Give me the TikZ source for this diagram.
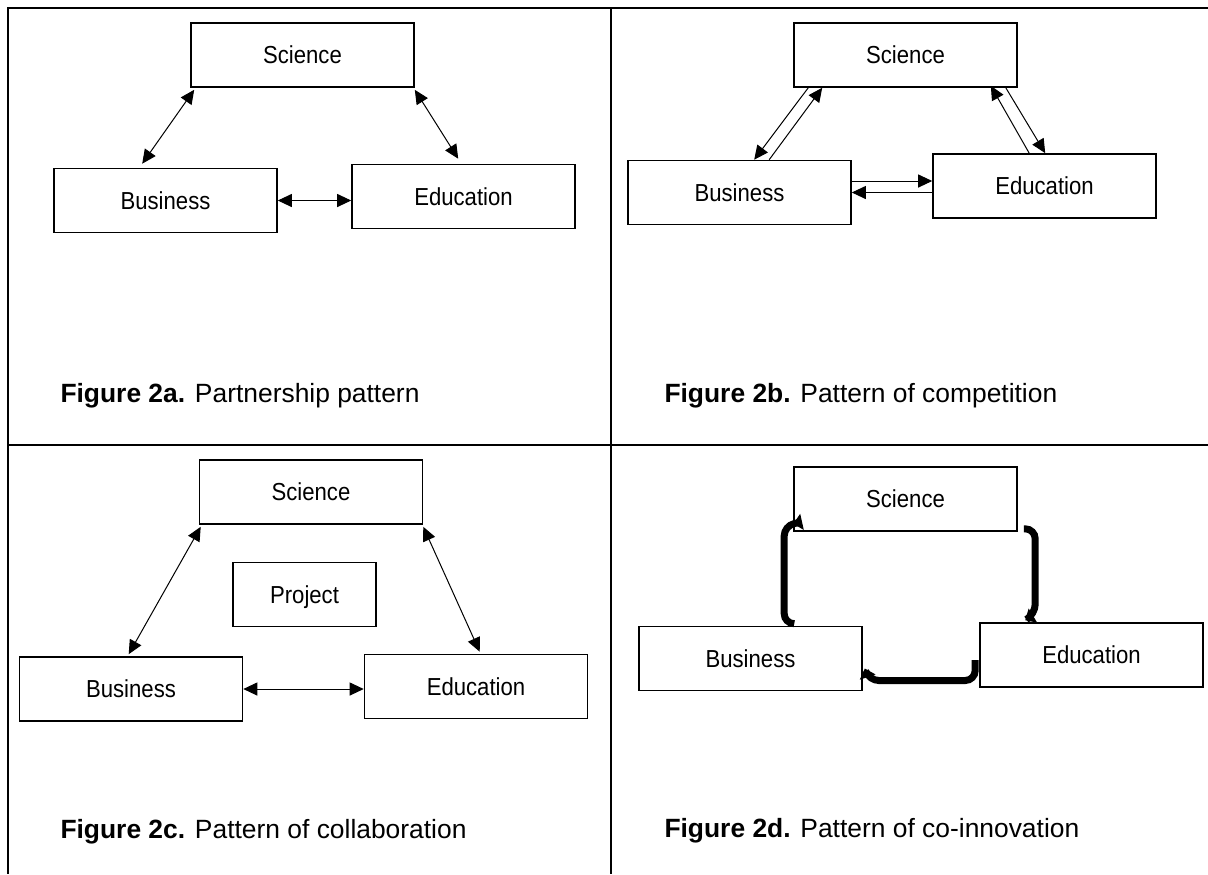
\documentclass[tikz,border=0pt]{standalone}
\usepackage{fontspec}
\setmainfont{Liberation Sans}
\newfontfamily\boxfont[FakeStretch=0.9]{Liberation Sans}
\usetikzlibrary{arrows.meta,calc}

\begin{document}
\begin{tikzpicture}[x=0.5pt, y=-0.5pt,
                    line width=0.5pt]
    \tikzstyle{block}=[draw,line width=0.8pt,minimum width=111.5pt,minimum height=32pt,inner sep=0pt,
                       text height=8.7pt,text depth=0pt,font=\boxfont\fontsize{12.3pt}{14pt}\selectfont]
    \tikzstyle{smallblock}=[block, minimum width=71.5pt];
    \tikzstyle{link}=[-{Triangle[length=7pt,width=6.5pt]}, line width=0.5pt];
    \tikzstyle{twolink}=[{Triangle[length=7pt,width=6.5pt]}-{Triangle[length=7pt,width=6.5pt]}, line width=0.5pt];
    \tikzstyle{cyclelink}=[-{Triangle[length=4.5pt,width=8pt]}, line width=3.5pt, rounded corners=5pt];
    \tikzstyle{figcap}=[anchor=base west, inner sep=0pt, font=\fontsize{13.2pt}{16pt}\selectfont];
    \tikzstyle{frame}=[line width=1pt];

    \useasboundingbox (0,0) rectangle (1208,874);

    % table lines
    \draw[frame] (1208,8) -- (8,8) -- (8,874);
    \draw[frame] (611,8) -- (611,874);
    \draw[frame] (8,445) -- (1208,445);

    % 2a
    \node[block] (sa) at (302.5,55) {Science};
    \node[block] (ba) at (165.5,200.5) {Business};
    \node[block] (ea) at (463.5,196.5) {Education};
    \draw[twolink] ([xshift=44.5pt,yshift=2pt]ba.north west) -- ([xshift=2pt,yshift=-1pt]sa.south west);
    \draw[twolink] ([yshift=-1pt]sa.south east) -- ([xshift=53.5pt,yshift=2.5pt]ea.north west);
    \draw[twolink] (ba.east) -- (ba.east -| ea.west);
    \node[figcap] (capa) at (60,402) {\textbf{Figure 2a.} Partnership pattern};

    % 2b
    \node[block] (sb) at (905.5,55) {Science};
    \node[block] (bb) at (739.5,192.5) {Business};
    \node[block] (eb) at (1044.5,186) {Education};
    \draw[link] ([xshift=7.5pt]sb.south west) -- ([xshift=63.5pt]bb.north west);
    \draw[link] ([xshift=71pt]bb.north west) -- ([xshift=14.5pt]sb.south west);
    \draw[link] ([xshift=48.5pt]eb.north west) -- ([xshift=-13.5pt,yshift=1pt]sb.south east);
    \draw[link] ([xshift=-6pt]sb.south east) -- ([xshift=56.5pt]eb.north west);
    \draw[link] ([yshift=5.75pt]bb.east) -- ([yshift=5.75pt]bb.east -| eb.west);
    \draw[link] (bb.east -| eb.west) -- (bb.east);
    \node[figcap] (capb) at (664,402) {\textbf{Figure 2b.} Pattern of competition};

    % 2c
    \node[block] (sc) at (311,492) {Science};
    \node[smallblock] (pc) at (304.5,594.5) {Project};
    \node[block] (bc) at (131,689) {Business};
    \node[block] (ec) at (476,686.5) {Education};
    \draw[twolink] ([xshift=55pt,yshift=1pt]bc.north west) -- ([xshift=1pt,yshift=-1pt]sc.south west);
    \draw[twolink] ([yshift=-1pt]sc.south east) -- ([xshift=58pt,yshift=1pt]ec.north west);
    \draw[twolink] (bc.east) -- (bc.east -| ec.west);
    \node[figcap] (capc) at (60,838) {\textbf{Figure 2c.} Pattern of collaboration};

    % 2d
    \node[block] (sd) at (905.5,499) {Science};
    \node[block] (bd) at (750.5,658.5) {Business};
    \node[block] (ed) at (1091.5,655) {Education};
    \draw[cyclelink] ([xshift=3pt,yshift=1.5pt]sd.south east) -| ([xshift=28pt,yshift=4pt]ed.north west)
        -- ([xshift=23pt,yshift=1pt]ed.north west);
    \draw[cyclelink] ([xshift=-2pt,yshift=-2.5pt]ed.west) |- ([xshift=3pt,yshift=-11pt]bd.east)
        -- ([xshift=1pt,yshift=-5pt]bd.east);
    \draw[cyclelink] ([xshift=78pt,yshift=1pt]bd.north west) -| ([xshift=-4.5pt,yshift=3pt]sd.south west)
        -- ([yshift=4pt]sd.south west);
    \node[figcap] (capd) at (664,837) {\textbf{Figure 2d.} Pattern of co-innovation};
\end{tikzpicture}
\end{document}
